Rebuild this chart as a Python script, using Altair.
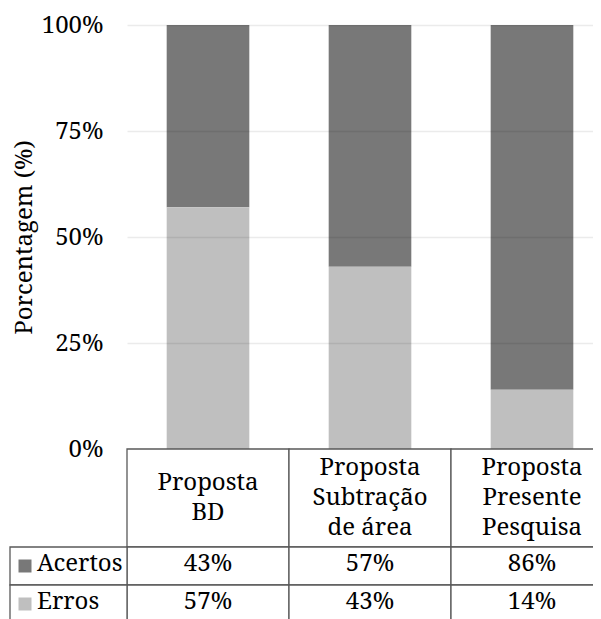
import altair as alt
import pandas as pd

# ---- data ----
categories = ["Proposta\nBD", "Proposta\nSubtração\nde área", "Proposta\nPresente\nPesquisa"]
series = ["Acertos", "Erros"]
acertos = [43, 57, 86]
erros = [57, 43, 14]
y_ticks = [0, 0.25, 0.5, 0.75, 1.0]

FONT = "Noto Serif"
FS = 24
DARK = "#787878"
LIGHT = "#bfbfbf"
LINE = "#595959"

rows = []
for i, c in enumerate(categories):
    rows.append({"cat": c, "serie": "Acertos", "pct": acertos[i], "ord": 1})
    rows.append({"cat": c, "serie": "Erros", "pct": erros[i], "ord": 0})
df = pd.DataFrame(rows)
hdr = pd.DataFrame({"cat": categories})
lab = pd.DataFrame({"serie": series})

color_scale = alt.Scale(domain=series, range=[DARK, LIGHT])
W = 486
H_BARS, H_HDR, H_VAL = 424, 98, 76

bars = alt.Chart(df).transform_calculate(
    frac="datum.pct / 100"
).mark_bar(strokeWidth=0).encode(
    x=alt.X("cat:N", sort=categories, axis=None,
            scale=alt.Scale(paddingInner=0.49, paddingOuter=0.245)),
    y=alt.Y("frac:Q", stack="zero",
            scale=alt.Scale(domain=[0, 1], nice=False),
            axis=alt.Axis(values=y_ticks, format=".0%", title="Porcentagem (%)",
                          grid=True, gridColor="#000000", gridOpacity=0.08, gridWidth=1.5,
                          domain=False, ticks=False, labelPadding=24,
                          labelFont=FONT, labelFontSize=FS, labelColor="#000000",
                          titleFont=FONT, titleFontSize=FS, titleFontWeight="normal",
                          titleColor="#000000", titlePadding=5, zindex=1)),
    color=alt.Color("serie:N", scale=color_scale, legend=None),
    order=alt.Order("ord:Q"),
).properties(width=W, height=H_BARS)

hx = alt.X("cat:N", sort=categories, axis=None,
           scale=alt.Scale(paddingInner=0, paddingOuter=0))
hbase = alt.Chart(hdr).encode(x=hx)
hcells = hbase.mark_rect(fill="white", stroke=LINE, strokeWidth=1.3).encode(
    y=alt.value(0), y2=alt.value(H_HDR))
htext = hbase.transform_calculate(
    ty=f"{H_HDR / 2} - (length(split(datum.cat, '\\n')) - 1) * 15"
).mark_text(font=FONT, fontSize=FS, lineHeight=30, lineBreak="\n",
            baseline="middle", color="black").encode(
    text="cat:N", y=alt.Y("ty:Q", scale=None))
header = alt.layer(hcells, htext).properties(width=W, height=H_HDR)

ry = alt.Y("serie:N", sort=series, axis=None,
           scale=alt.Scale(paddingInner=0, paddingOuter=0))
vbase = alt.Chart(df).encode(x=hx, y=ry)
vcells = vbase.mark_rect(fill="white", stroke=LINE, strokeWidth=1.3)
vtext = vbase.transform_calculate(lbl="datum.pct + '%'").mark_text(
    font=FONT, fontSize=FS, baseline="middle", dy=-2, color="black").encode(text="lbl:N")

lbase = alt.Chart(lab).encode(y=ry)
lcells = lbase.mark_rect(fill="white", stroke=LINE, strokeWidth=1.3).encode(
    x=alt.value(-117), x2=alt.value(0))
lsq = lbase.mark_square(size=169, opacity=1).encode(
    x=alt.value(-102),
    color=alt.Color("serie:N", scale=color_scale, legend=None))
ltxt = lbase.mark_text(font=FONT, fontSize=FS, align="left", baseline="middle", dy=-2,
                       color="black").encode(x=alt.value(-90), text="serie:N")
values = alt.layer(vcells, vtext, lcells, lsq, ltxt).properties(width=W, height=H_VAL)

chart = alt.vconcat(bars, header, values, spacing=0, bounds="flush").properties(
    padding={"left": 1, "top": 5, "right": -21, "bottom": -5},
    background="white",
).configure_view(strokeWidth=0)

chart.save("out.html", embed_options={"renderer": "svg", "actions": False})
